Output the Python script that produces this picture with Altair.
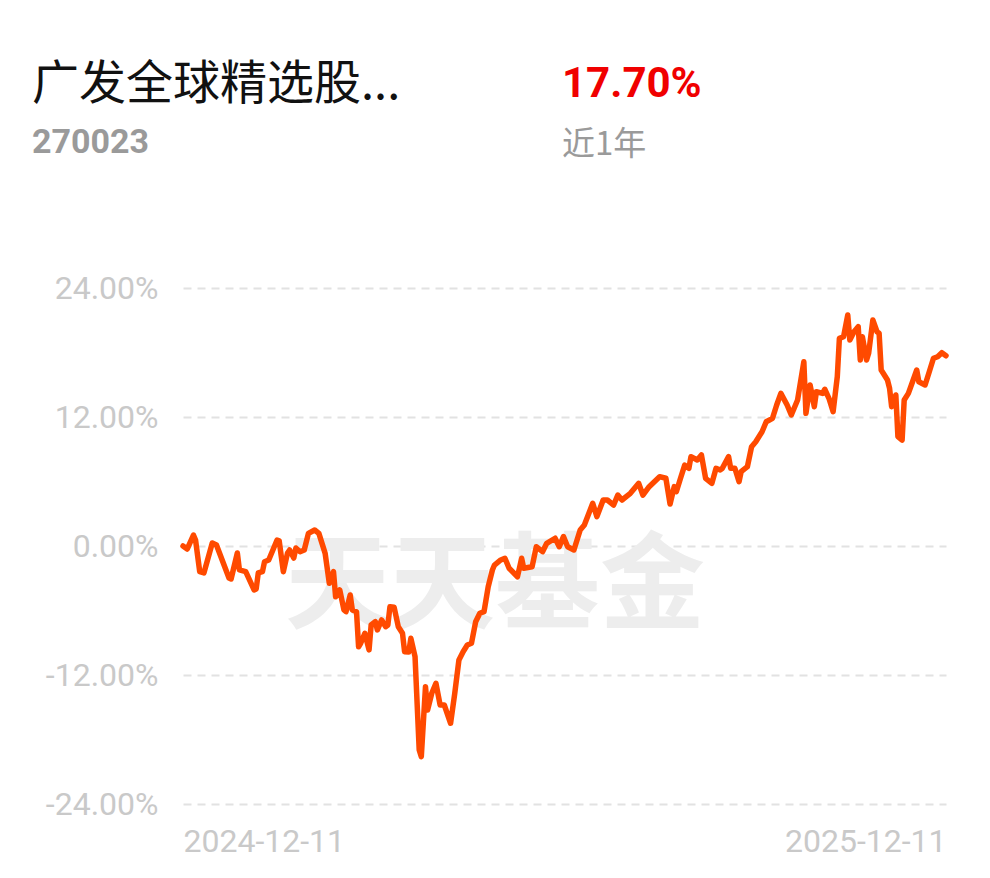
import altair as alt
import pandas as pd

# ---- data ----
start_date = "2024-12-11"
end_date = "2025-12-11"

day_offsets = [
    0, 2, 5, 6, 8, 10, 14, 16, 22, 23,
    26, 27, 30, 34, 35, 36, 38, 39, 41, 45,
    46, 48, 50, 51, 53, 54, 56, 58, 60, 63,
    65, 68, 70, 72, 73, 75, 77, 78, 80, 81,
    83, 84, 85, 87, 89, 90, 92, 93, 95, 97,
    98, 99, 101, 103, 105, 106, 108, 109, 111, 113,
    114, 116, 117, 119, 121, 123, 125, 128, 130, 132,
    134, 136, 138, 140, 142, 144, 146, 148, 149, 152,
    154, 156, 160, 162, 163, 167, 169, 172, 174, 178,
    180, 182, 184, 187, 190, 192, 196, 198, 201, 203,
    206, 208, 210, 214, 218, 220, 223, 228, 231, 233,
    235, 236, 238, 240, 242, 243, 246, 248, 250, 253,
    255, 257, 258, 261, 262, 264, 266, 267, 270, 272,
    274, 277, 279, 282, 284, 286, 289, 291, 294, 297,
    298, 300, 302, 303, 306, 307, 309, 311, 313, 314,
    316, 318, 319, 321, 323, 324, 325, 327, 328, 330,
    332, 333, 334, 337, 338, 339, 341, 342, 344, 345,
    347, 349, 351, 352, 355, 357, 359, 361, 363, 365,
]

returns_pct = [
    0.00, -0.28, 1.02, 0.56, -2.39, -2.51, 0.28, 0.09, -2.98, -3.07,
    -0.65, -2.23, -2.39, -4.09, -4.00, -2.51, -2.39, -1.46, -1.30, 0.56,
    0.49, -2.39, -0.65, -0.37, -1.12, -0.19, -0.53, -0.37, 1.18, 1.49,
    1.18, -0.68, -3.47, -2.39, -4.72, -4.09, -5.95, -6.11, -4.56, -5.95,
    -6.11, -9.37, -9.05, -8.12, -9.67, -7.35, -7.04, -7.81, -6.88, -7.51,
    -7.35, -5.65, -5.70, -7.51, -8.12, -9.83, -9.86, -8.59, -10.30, -18.98,
    -19.60, -13.09, -15.26, -13.70, -12.77, -14.79, -14.79, -16.49, -13.70, -10.60,
    -9.83, -9.21, -9.05, -7.04, -6.26, -6.11, -3.79, -2.23, -1.77, -1.30,
    -1.14, -2.07, -2.86, -1.14, -2.07, -1.93, -0.07, -0.53, 0.25, 0.72,
    -0.07, 0.87, -0.07, -0.37, 1.49, 1.95, 3.97, 2.73, 4.28, 4.28,
    3.81, 4.74, 4.28, 4.90, 5.83, 4.74, 5.52, 6.45, 6.30, 3.90,
    5.52, 5.05, 6.30, 7.53, 7.23, 8.31, 8.00, 8.47, 6.30, 5.83,
    7.23, 7.07, 7.23, 8.31, 7.23, 7.23, 5.98, 6.91, 7.38, 9.24,
    9.70, 10.63, 11.56, 11.88, 13.12, 14.20, 13.12, 12.19, 13.58, 17.14,
    12.34, 14.98, 12.96, 14.35, 14.20, 14.58, 13.74, 12.49, 15.75, 19.32,
    19.47, 21.49, 19.16, 19.93, 20.40, 17.30, 19.47, 17.30, 17.93, 21.02,
    19.93, 19.79, 16.37, 15.44, 14.67, 12.96, 14.05, 10.17, 9.86, 13.58,
    14.20, 15.28, 16.37, 15.28, 14.98, 16.21, 17.46, 17.61, 17.98, 17.70,
]

y_ticks = [-24, -12, 0, 12, 24]

fund_name = "广发全球精选股..."
fund_code = "270023"
period_return = "17.70%"
period_label = "近1年"
watermark = "天天基金"

# ---- build table ----
base = pd.Timestamp(start_date)
df = pd.DataFrame({
    "date": [base + pd.Timedelta(days=d) for d in day_offsets],
    "ret": returns_pct,
})

W, H = 763, 516
LINE_COLOR = "#ff4a00"
AXIS_GRAY = "#c9c9c9"

x_start = alt.DateTime(year=2024, month=12, date=11)
x_end = alt.DateTime(year=2025, month=12, date=11)

line = alt.Chart(df).mark_line(
    color=LINE_COLOR, strokeWidth=5.5, strokeJoin="round", strokeCap="round"
).encode(
    x=alt.X(
        "date:T",
        scale=alt.Scale(domain=[x_start, x_end], nice=False),
        axis=alt.Axis(
            values=[x_start, x_end],
            format="%Y-%m-%d",
            labelFlush=True,
            labelLimit=0,
            grid=False,
            domain=False,
            ticks=False,
            labelFont="Roboto",
            labelFontSize=32,
            labelColor=AXIS_GRAY,
            labelPadding=22,
            title=None,
        ),
    ),
    y=alt.Y(
        "ret:Q",
        scale=alt.Scale(domain=[-24, 24], nice=False),
        axis=alt.Axis(
            values=y_ticks,
            labelExpr="(datum.value < 0 ? '-' : '') + format(abs(datum.value), '.2f') + '%'",
            grid=True,
            gridColor="#e2e2e2",
            gridWidth=2,
            gridDash=[8, 6],
            domain=False,
            ticks=False,
            labelFont="Roboto",
            labelFontSize=32,
            labelColor=AXIS_GRAY,
            labelPadding=25,
            labelLimit=0,
            title=None,
        ),
    ),
)

def label(text, x, y, size, color, weight="normal", font="Noto Sans CJK SC", align="left"):
    return alt.Chart(pd.DataFrame({"t": [text]})).mark_text(
        font=font, fontSize=size, color=color, fontWeight=weight,
        align=align, baseline="middle",
    ).encode(text="t:N", x=alt.value(x), y=alt.value(y))

wm = label(watermark, 312, 300, 105, "#ededed", weight="bold", align="center")
t1 = label(fund_name, -151, -203, 47, "#111111")
t2 = label(fund_code, -151, -145, 34, "#9a9a9a", weight="bold", font="Roboto")
t3 = label(period_return, 379, -204, 42, "#f00000", weight="bold", font="Roboto")
t4 = label(period_label, 379, -143, 33, "#9a9a9a")

chart = alt.layer(wm, line, t1, t2, t3, t4).properties(
    width=W,
    height=H,
    padding={"left": 175, "top": 280, "right": 36, "bottom": 70},
    autosize=alt.AutoSizeParams(type="none"),
).configure(
    background="white",
    view=alt.ViewConfig(stroke=None),
)

chart.save("out.html", embed_options={"renderer": "svg", "actions": False})
